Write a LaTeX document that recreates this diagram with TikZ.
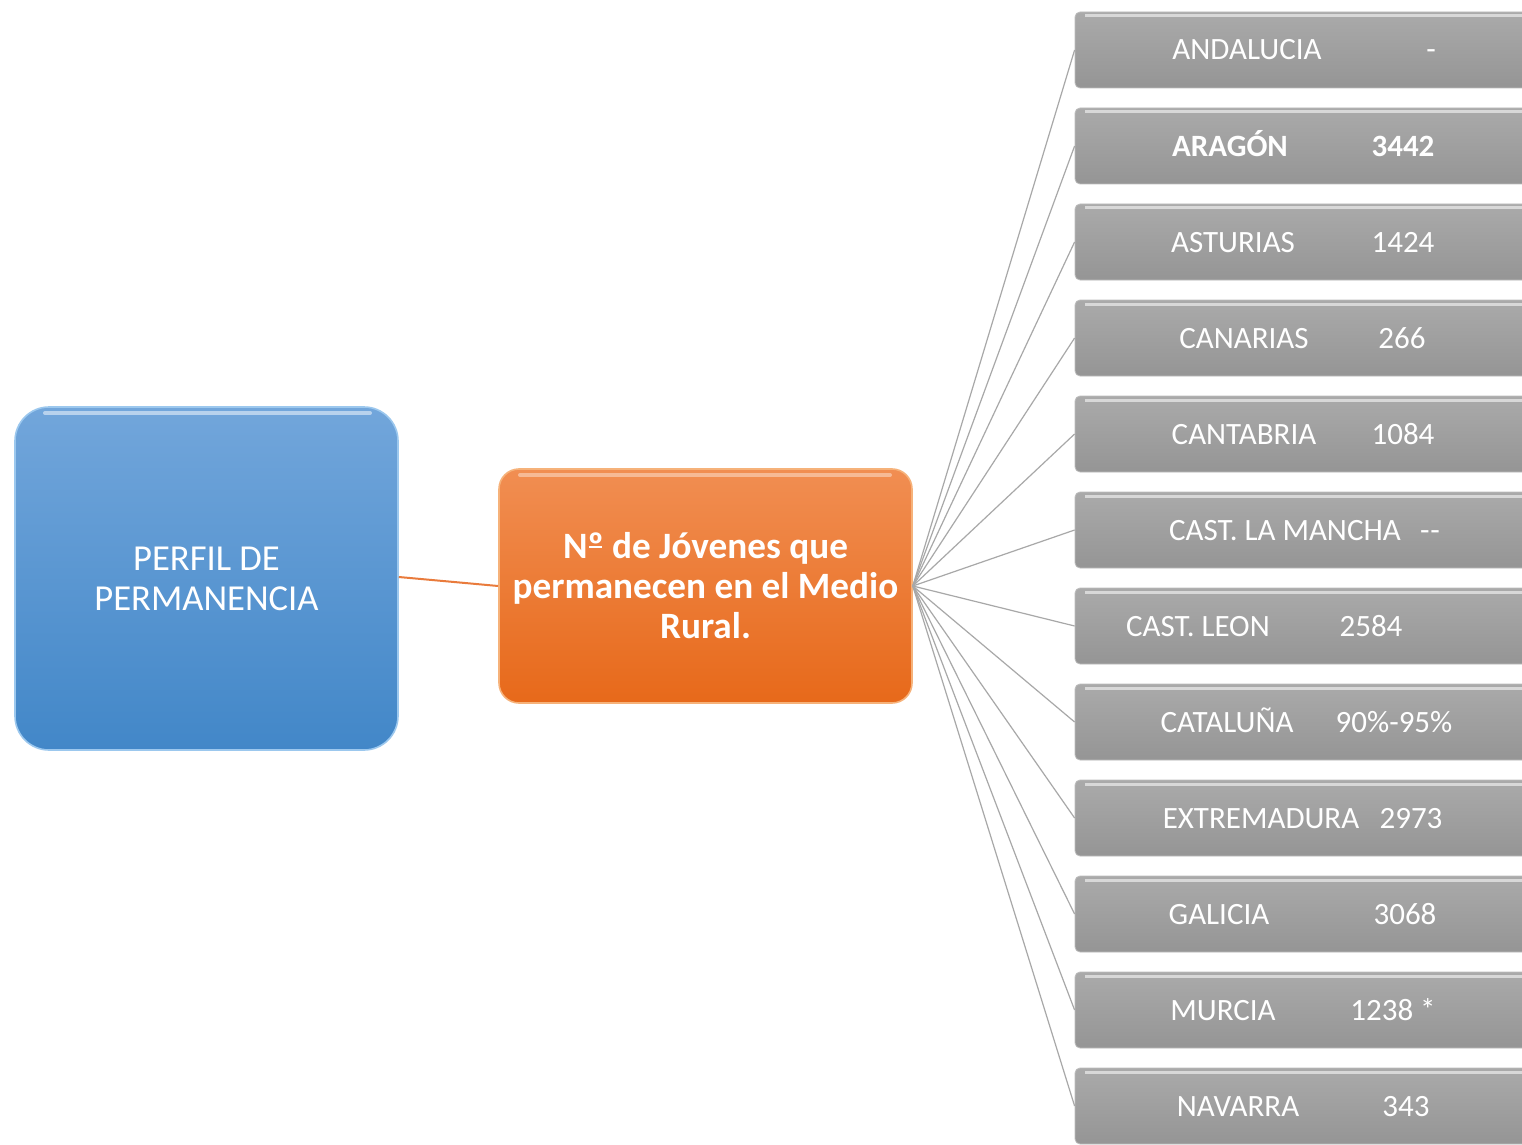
\documentclass[tikz,border=0pt]{standalone}
\usepackage{fontspec}
\setmainfont{Carlito}
\begin{document}
\begin{tikzpicture}[x=0.5pt,y=-0.5pt,
  bluebox/.style={rounded corners=17pt, top color=blueTop, bottom color=blueBot, draw=blueEdge, line width=0.8pt,
     text=white, align=center, font=\fontsize{18.3}{20}\selectfont, minimum width=191.5pt, minimum height=171.5pt, inner sep=0pt},
  orangebox/.style={rounded corners=10pt, top color=orTop, bottom color=orBot, draw=orEdge, line width=0.8pt,
     text=white, align=center, font=\fontsize{18.6}{20}\selectfont\bfseries, minimum width=206.5pt, minimum height=117pt, inner sep=0pt},
  graybox/.style={rounded corners=2.5pt, top color=grTop, bottom color=grBot, draw=grEdge, line width=0.4pt,
     minimum width=242.5pt, minimum height=38pt, inner sep=0pt},
  rowtext/.style={text=white, font=\fontsize{15.5}{18}\selectfont, inner sep=0pt, anchor=base},
  conn/.style={draw=connGray, line width=0.6pt},
  orconn/.style={draw=orLine, line width=1pt}]
\definecolor{blueTop}{HTML}{72A6DB}
\definecolor{blueBot}{HTML}{4287C8}
\definecolor{blueEdge}{HTML}{9CC8EE}
\definecolor{orTop}{HTML}{F18E52}
\definecolor{orBot}{HTML}{E7691A}
\definecolor{orEdge}{HTML}{F6B27A}
\definecolor{orLine}{HTML}{E97B3C}
\definecolor{grTop}{HTML}{AAAAAA}
\definecolor{grBot}{HTML}{959595}
\definecolor{grEdge}{HTML}{BDBDBD}
\definecolor{connGray}{HTML}{A8A8A8}
\useasboundingbox (0,0) rectangle (1522,1145);
\fill[white] (0,0) rectangle (1522,1145);
% central nodes
\node[bluebox] (perfil) at (206.5,578.5) {PERFIL DE\\PERMANENCIA};
\node[orangebox] (jov) at (705.5,586) {N\rlap{\kern0.04em\rule[0.3em]{0.36em}{0.05em}}º de Jóvenes que\\permanecen en el Medio\\Rural.};
\draw[white, opacity=0.5, line width=2pt, line cap=round] (45,413) -- (370,413);
\draw[white, opacity=0.4, line width=2pt, line cap=round] (520,475) -- (890,475);
\draw[orconn] (perfil.east |- 0,577) coordinate (pe) -- (jov.west);
% region boxes
\foreach \i/\lab/\lx/\val/\vx in {
  1/ANDALUCIA/1247/-/1431,
  2/\textbf{ARAGÓN}/1230/\textbf{3442}/1403,
  3/ASTURIAS/1233/1424/1403,
  4/CANARIAS/1244/266/1402,
  5/CANTABRIA/1244/1084/1403,
  6/CAST. LA MANCHA/1285/-\kern0.5pt-/1430,
  7/CAST. LEON/1198/2584/1371,
  8/CATALUÑA/1227/90\%-95\%/1394,
  9/EXTREMADURA/1261/2973/1411,
  10/GALICIA/1219/3068/1405,
  11/MURCIA/1223/1238 */1393,
  12/NAVARRA/1238/343/1406}{
  \pgfmathsetmacro\cy{50+96*(\i-1)}
  \node[graybox] (r\i) at (1317.5,\cy) {};
  \draw[white, opacity=0.55, line width=1.5pt] (1085,\cy-34) -- (1530,\cy-34);
  \node[rowtext] (l\i) at (\lx,\cy+10) {\lab};
  \node[rowtext] (v\i) at (\vx,\cy+10) {\val};
  \draw[conn] (jov.east) -- (r\i.west);
}
\end{tikzpicture}
\end{document}
